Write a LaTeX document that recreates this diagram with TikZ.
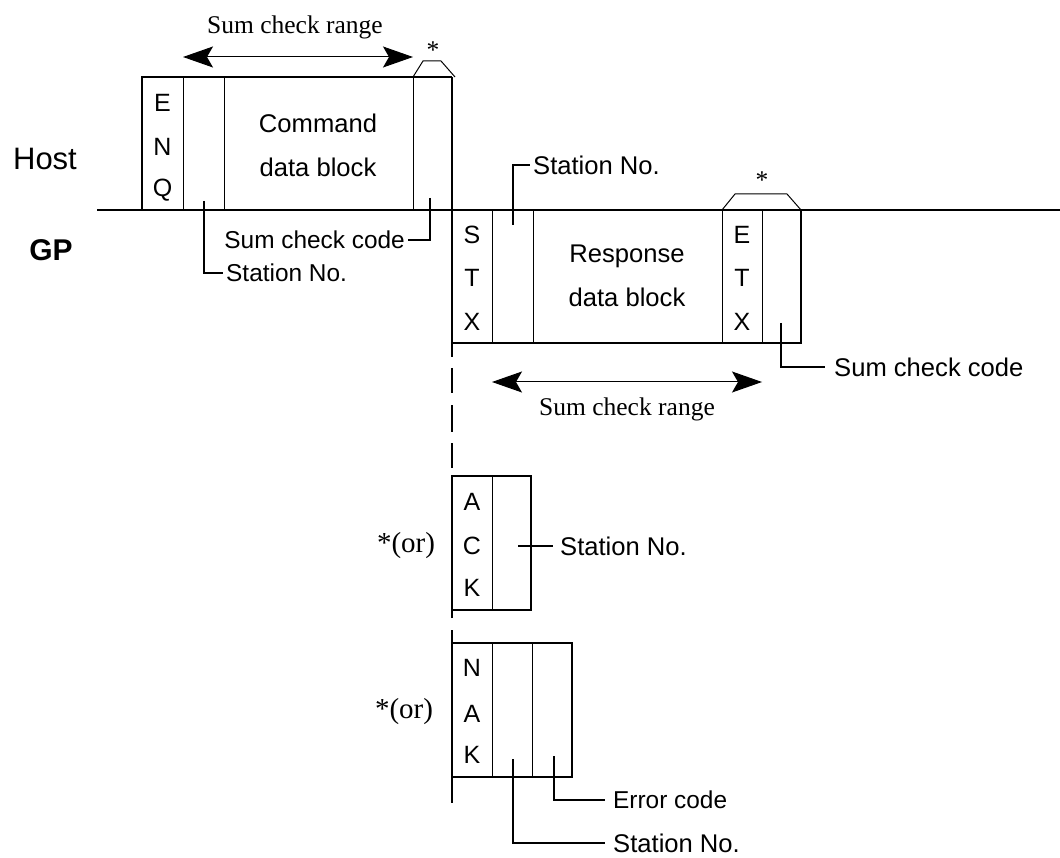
\documentclass[tikz,border=0pt]{standalone}
\usepackage{fontspec}
\setmainfont{Liberation Serif}
\setsansfont{Liberation Sans}
\usetikzlibrary{arrows.meta}
\begin{document}
\begin{tikzpicture}[x=1pt,y=-1pt,
  frame/.style={line width=2pt},
  divider/.style={line width=1pt},
  leader/.style={line width=1.8pt},
  bracketline/.style={line width=1pt},
  sans/.style={font=\fontsize{24.4}{28}\selectfont\sffamily, inner sep=0pt},
  sanslarge/.style={font=\fontsize{25.6}{29}\selectfont\sffamily, inner sep=0pt},
  letter/.style={font=\fontsize{25}{28}\selectfont\sffamily, inner sep=0pt},
  blocktext/.style={font=\fontsize{25.6}{30}\selectfont\sffamily, inner sep=0pt},
  big/.style={font=\fontsize{31}{36}\selectfont\sffamily, inner sep=0pt},
  serif/.style={font=\fontsize{25.5}{30}\selectfont\rmfamily, inner sep=0pt},
  orlabel/.style={font=\fontsize{29}{34}\selectfont\rmfamily, inner sep=0pt},
  rangearrow/.style={line width=1pt, {Stealth[length=30pt,width=21pt,inset=6pt]}-{Stealth[length=30pt,width=21pt,inset=6pt]}},
  ]
\useasboundingbox (0,0) rectangle (1060,858);

% labels Host / GP
\node[big] (host) at (45,159) {Host};
\node[big, font=\fontsize{30}{35}\selectfont\sffamily\bfseries] (gp) at (51,250) {GP};

% time base line
\coordinate (bl0) at (97,210);
\coordinate (bl1) at (1060,210);
\draw[frame] (bl0) -- (bl1);

% ---------- Host command frame ----------
\coordinate (h1) at (142,210);
\coordinate (h2) at (142,77);
\coordinate (h3) at (452,77);
\draw[frame] (h1) -- (h2) -- (h3);
\draw[divider] (183,77) -- (183,210);
\draw[divider] (224,77) -- (224,210);
\draw[divider] (413,77) -- (413,210);

% GP vertical line (solid part)
\coordinate (v0) at (452,77);
\coordinate (v1) at (452,357);
\draw[frame] (v0) -- (v1);
% dashed continuation
\draw[frame] (452,368) -- (452,393);
\draw[frame] (452,405) -- (452,432);
\draw[frame] (452,443) -- (452,468);

\node[letter] (cE) at (162.5,103) {E};
\node[letter] (cN) at (162.5,147) {N};
\node[letter] (cQ) at (162.5,190) {Q};
\node[blocktext] (cmd1) at (318,123) {Command};
\node[blocktext] (cmd2) at (318,167) {data block};

% sum check range (command)
\coordinate (ra1) at (183,57);
\coordinate (ra2) at (413,57);
\draw[rangearrow] (ra1) -- (ra2);
\node[serif] (rangeA) at (295,27) {Sum check range};

% bracket *
\coordinate (b1) at (413,77);
\coordinate (b2) at (423,61);
\coordinate (b3) at (441,61);
\coordinate (b4) at (455,77);
\draw[bracketline] (b1) -- (b2) -- (b3) -- (b4);
\node[serif] (starA) at (433,50) {*};

% leaders (host)
\node[sans, anchor=east] (scA) at (405,240) {Sum check code};
\coordinate (scAp) at (430,198);
\draw[leader] (scAp) |- ([xshift=3pt]scA.east);
\node[sans, anchor=west] (snA) at (226,273) {Station No.};
\coordinate (snAp) at (204,201);
\draw[leader] (snAp) |- ([xshift=-3pt]snA.west);

% ---------- GP response frame ----------
\coordinate (r1) at (452,343);
\coordinate (r2) at (801,343);
\coordinate (r3) at (801,210);
\draw[frame] (r1) -- (r2) -- (r3);
\draw[divider] (492,210) -- (492,343);
\draw[divider] (533,210) -- (533,343);
\draw[divider] (722,210) -- (722,343);
\draw[divider] (762,210) -- (762,343);

\node[letter] (rS) at (472,235) {S};
\node[letter] (rT) at (472,278) {T};
\node[letter] (rX) at (472,322) {X};
\node[letter] (eE) at (742,235) {E};
\node[letter] (eT) at (742,278) {T};
\node[letter] (eX) at (742,322) {X};
\node[blocktext] (resp1) at (627,256) {Response};
\node[blocktext] (resp2) at (627,297) {data block};

\coordinate (c1) at (722,210);
\coordinate (c2) at (735,194);
\coordinate (c3) at (787,194);
\coordinate (c4) at (801,210);
\draw[bracketline] (c1) -- (c2) -- (c3) -- (c4);
\node[serif] (starB) at (762,180) {*};

\node[sanslarge, anchor=west] (snB) at (533,165) {Station No.};
\coordinate (snBp) at (513,225);
\draw[leader] (snBp) |- ([xshift=-3pt]snB.west);

\node[sanslarge, anchor=west] (scB) at (834,367) {Sum check code};
\coordinate (scBp) at (781,323);
\draw[leader] (scBp) |- ([xshift=-9pt]scB.west);

\coordinate (rb1) at (492,382);
\coordinate (rb2) at (762,382);
\draw[rangearrow] (rb1) -- (rb2);
\node[serif] (rangeB) at (627,409) {Sum check range};

% ---------- ACK ----------
\coordinate (a0) at (452,618);
\coordinate (a1) at (452,476);
\coordinate (a2) at (531,476);
\coordinate (a3) at (531,610);
\coordinate (a4) at (452,610);
\draw[frame] (a0) -- (a1) -- (a2) -- (a3) -- (a4);
\draw[divider] (492,476) -- (492,610);
\node[letter] (aA) at (472,502) {A};
\node[letter] (aC) at (472,546) {C};
\node[letter] (aK) at (472,588) {K};
\node[orlabel] (orA) at (406,546) {*(or)};
\node[sanslarge, anchor=west] (snC) at (560,546) {Station No.};
\coordinate (snCp) at (518,546);
\draw[leader] (snCp) -- ([xshift=-7pt]snC.west);

% ---------- NAK ----------
\coordinate (n0) at (452,630);
\coordinate (n1) at (452,803);
\draw[frame] (n0) -- (n1);
\coordinate (n2) at (452,643);
\coordinate (n3) at (572,643);
\coordinate (n4) at (572,777);
\coordinate (n5) at (452,777);
\draw[frame] (n2) -- (n3) -- (n4) -- (n5);
\draw[divider] (492,643) -- (492,777);
\draw[divider] (532,643) -- (532,777);
\node[letter] (nN) at (472,668) {N};
\node[letter] (nA) at (472,714) {A};
\node[letter] (nK) at (472,755) {K};
\node[orlabel] (orN) at (404,712) {*(or)};

\node[sans, anchor=west] (ecN) at (613,800) {Error code};
\coordinate (ecNp) at (554,756);
\draw[leader] (ecNp) |- ([xshift=-8pt]ecN.west);
\node[sanslarge, anchor=west] (snN) at (613,843) {Station No.};
\coordinate (snNp) at (513,759);
\draw[leader] (snNp) |- ([xshift=-8pt]snN.west);
\end{tikzpicture}
\end{document}
